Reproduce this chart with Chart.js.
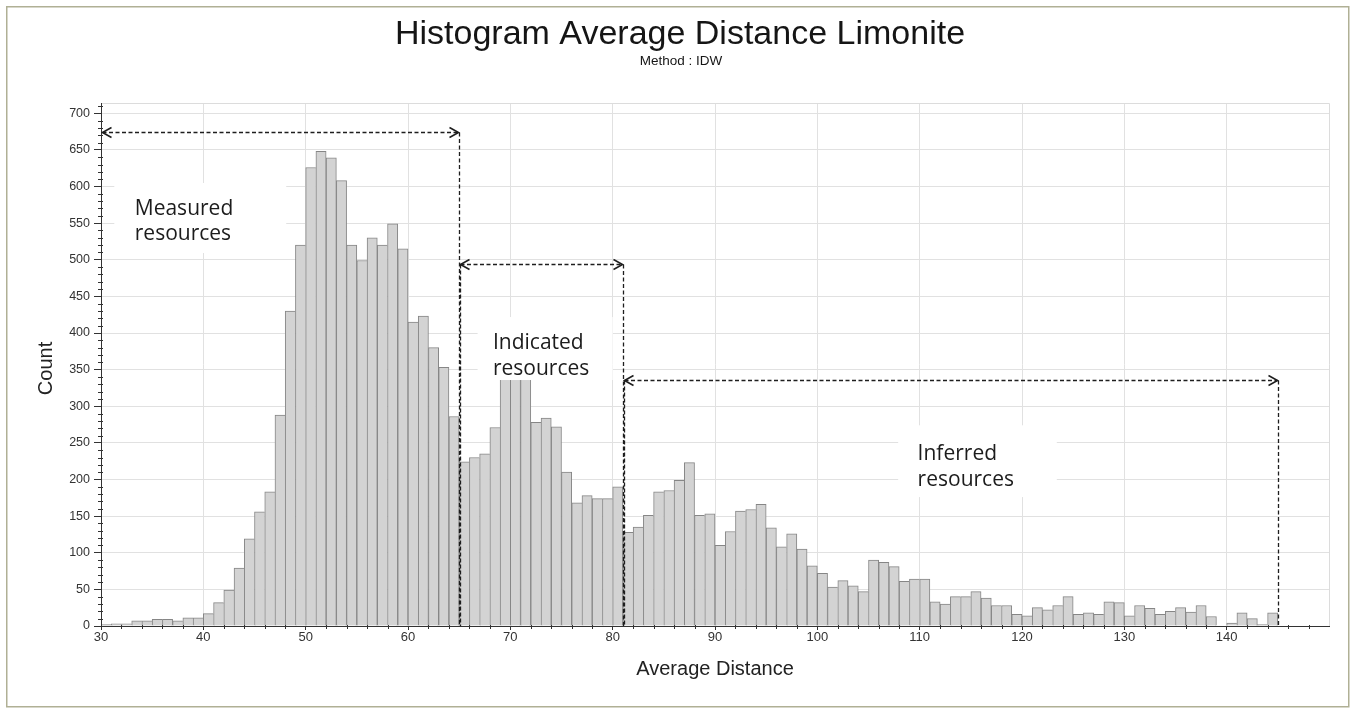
<!DOCTYPE html>
<html>
<head>
<meta charset="utf-8">
<script src="https://cdn.jsdelivr.net/npm/chart.js@4/dist/chart.umd.min.js"></script>
<style>
  html, body { margin: 0; padding: 0; background: #ffffff; }
  #wrap { width: 1356px; height: 708px; }
</style>
</head>
<body>
<div id="wrap"><canvas id="hist" width="1356" height="708"></canvas></div>
<script>
// Lower edge of each 1-unit distance bin
const binLow = [
  30, 31, 32, 33, 34, 35, 36, 37, 38, 39,
  40, 41, 42, 43, 44, 45, 46, 47, 48, 49,
  50, 51, 52, 53, 54, 55, 56, 57, 58, 59,
  60, 61, 62, 63, 64, 65, 66, 67, 68, 69,
  70, 71, 72, 73, 74, 75, 76, 77, 78, 79,
  80, 81, 82, 83, 84, 85, 86, 87, 88, 89,
  90, 91, 92, 93, 94, 95, 96, 97, 98, 99,
  100, 101, 102, 103, 104, 105, 106, 107, 108, 109,
  110, 111, 112, 113, 114, 115, 116, 117, 118, 119,
  120, 121, 122, 123, 124, 125, 126, 127, 128, 129,
  130, 131, 132, 133, 134, 135, 136, 137, 138, 139,
  140, 141, 142, 143, 144
];

// Number of blocks in each bin
const counts = [
  2, 3, 3, 7, 7, 9, 9, 7, 11, 11,
  17, 32, 49, 79, 119, 156, 183, 288, 430, 520,
  626, 648, 639, 608, 520, 499, 530, 520, 549, 515,
  415, 423, 380, 353, 286, 224, 230, 235, 271, 345,
  368, 352, 278, 284, 272, 210, 168, 178, 174, 174,
  190, 128, 135, 151, 183, 185, 199, 223, 151, 153,
  110, 129, 157, 159, 166, 134, 108, 126, 105, 82,
  72, 53, 62, 55, 47, 90, 87, 81, 61, 64,
  64, 33, 30, 40, 40, 47, 38, 28, 28, 16,
  14, 25, 22, 28, 40, 16, 18, 16, 33, 32,
  14, 28, 24, 16, 20, 25, 19, 28, 13, 0,
  4, 18, 10, 2, 18
];

const xTickValues = [30, 40, 50, 60, 70, 80, 90, 100, 110, 120, 130, 140];
const yTickValues = [0, 50, 100, 150, 200, 250, 300, 350, 400, 450, 500, 550, 600, 650, 700];

// Resource classes by average distance
const zoneNames = [['Measured', 'resources'], ['Indicated', 'resources'], ['Inferred', 'resources']];
const zoneFrom = [30, 65, 81];
const zoneTo = [65, 81, 145];

const chartTitle = 'Histogram Average Distance Limonite';
const chartSubtitle = 'Method : IDW';
const xAxisTitle = 'Average Distance';
const yAxisTitle = 'Count';

// Where each class annotation sits, in axis units
const zoneLayout = [
  { arrowY: 675, box: [31.3, 48.1, 604.8, 509.2], textX: 33.3, lineY: [561, 527] },
  { arrowY: 494, box: [66.8, 80.0, 421.8, 335.8], textX: 68.3, lineY: [378, 342.7] },
  { arrowY: 336, box: [107.9, 123.4, 274, 176], textX: 109.8, lineY: [226.6, 191] }
];

const SANS = "'Liberation Sans', Arial, sans-serif";
const LABEL_FONT = "'Open Sans', 'DejaVu Sans', sans-serif";

const histPoints = counts.map((c, i) => ({ x: binLow[i] + 0.5, y: c }));

const decorations = {
  id: 'decorations',
  beforeDraw(chart) {
    const ctx = chart.ctx;
    ctx.save();
    ctx.fillStyle = '#ffffff';
    ctx.fillRect(0, 0, chart.width, chart.height);
    ctx.strokeStyle = '#b0b095';
    ctx.lineWidth = 1.5;
    ctx.strokeRect(6.75, 6.75, chart.width - 14, chart.height - 8);
    ctx.restore();
  },
  afterDatasetsDraw(chart) {
    const ctx = chart.ctx;
    const xs = chart.scales.x, ys = chart.scales.y;
    const a = chart.chartArea;
    ctx.save();

    // light frame on top and right of the plot
    ctx.strokeStyle = '#dcdcdc';
    ctx.lineWidth = 1;
    ctx.beginPath();
    ctx.moveTo(a.left, Math.round(a.top) + 0.5);
    ctx.lineTo(Math.round(a.right) + 0.5, Math.round(a.top) + 0.5);
    ctx.lineTo(Math.round(a.right) + 0.5, a.bottom);
    ctx.stroke();

    // axis lines over the bars
    ctx.strokeStyle = '#333333';
    ctx.beginPath();
    ctx.moveTo(a.left, Math.round(a.bottom) + 0.5);
    ctx.lineTo(a.right, Math.round(a.bottom) + 0.5);
    ctx.moveTo(Math.round(a.left) + 0.5, a.top);
    ctx.lineTo(Math.round(a.left) + 0.5, a.bottom);
    ctx.stroke();

    // minor ticks
    ctx.beginPath();
    for (let v = xs.min + 2; v < xs.max; v += 2) {
      if (v % 10 === 0) continue;
      const px = Math.round(xs.getPixelForValue(v)) + 0.5;
      ctx.moveTo(px, a.bottom - 1);
      ctx.lineTo(px, a.bottom + 3);
    }
    for (let v = 10; v <= 710; v += 10) {
      if (v % 50 === 0) continue;
      const py = Math.round(ys.getPixelForValue(v)) + 0.5;
      ctx.moveTo(a.left - 3, py);
      ctx.lineTo(a.left + 2, py);
    }
    ctx.stroke();

    // class label boxes
    zoneLayout.forEach((z, i) => {
      const bx0 = xs.getPixelForValue(z.box[0]);
      const bx1 = xs.getPixelForValue(z.box[1]);
      const by0 = ys.getPixelForValue(z.box[2]);
      const by1 = ys.getPixelForValue(z.box[3]);
      ctx.fillStyle = '#ffffff';
      ctx.fillRect(bx0, by0, bx1 - bx0, by1 - by0);
      ctx.fillStyle = '#1c1c1c';
      ctx.font = '21px ' + LABEL_FONT;
      ctx.textAlign = 'left';
      ctx.textBaseline = 'alphabetic';
      zoneNames[i].forEach((t, k) => {
        ctx.fillText(t, xs.getPixelForValue(z.textX), ys.getPixelForValue(z.lineY[k]));
      });
    });

    // dashed extent arrows
    ctx.strokeStyle = '#1e1e1e';
    zoneLayout.forEach((z, i) => {
      const x0 = Math.round(xs.getPixelForValue(zoneFrom[i])) + 0.5;
      const x1 = Math.round(xs.getPixelForValue(zoneTo[i])) + 0.5;
      const y = Math.round(ys.getPixelForValue(z.arrowY)) + 0.5;
      ctx.lineWidth = 1.3;
      ctx.setLineDash([4, 2.5]);
      ctx.beginPath();
      ctx.moveTo(x0 + 1, y);
      ctx.lineTo(x1 - 1, y);
      ctx.moveTo(x1, y);
      ctx.lineTo(x1, a.bottom);
      ctx.stroke();
      if (zoneFrom[i] > xs.min) {
        ctx.setLineDash([4, 2]);
        ctx.beginPath();
        ctx.moveTo(x0 + 1, y);
        ctx.lineTo(x0 + 1, a.bottom);
        ctx.stroke();
      }
      ctx.setLineDash([]);
      ctx.lineWidth = 1.6;
      ctx.beginPath();
      ctx.moveTo(x0 + 10, y - 5);
      ctx.lineTo(x0 + 1, y);
      ctx.lineTo(x0 + 10, y + 5);
      ctx.moveTo(x1 - 10, y - 5);
      ctx.lineTo(x1 - 1, y);
      ctx.lineTo(x1 - 10, y + 5);
      ctx.stroke();
    });
    ctx.restore();
  },
  afterDraw(chart) {
    const ctx = chart.ctx;
    const a = chart.chartArea;
    ctx.save();
    ctx.fillStyle = '#151515';
    ctx.textAlign = 'center';
    ctx.textBaseline = 'middle';
    ctx.font = '34px ' + SANS;
    ctx.fillText(chartTitle, 680, 35);
    ctx.font = '13.5px ' + SANS;
    ctx.fillText(chartSubtitle, 681, 61);
    ctx.fillStyle = '#222222';
    ctx.font = '20px ' + SANS;
    ctx.fillText(xAxisTitle, (a.left + a.right) / 2, 669);
    ctx.translate(46, (a.top + a.bottom) / 2 + 4);
    ctx.rotate(-Math.PI / 2);
    ctx.fillText(yAxisTitle, 0, 0);
    ctx.restore();
  }
};

new Chart(document.getElementById('hist'), {
  type: 'bar',
  data: {
    datasets: [{
      data: histPoints,
      backgroundColor: '#d3d3d3',
      borderColor: '#868686',
      borderWidth: (c) => {
        const i = c.dataIndex;
        const v = counts[i];
        const next = i + 1 < counts.length ? counts[i + 1] : 0;
        return { top: 1, left: 1, right: next < v ? 1 : 0, bottom: 0 };
      },
      barPercentage: 1,
      categoryPercentage: 1
    }]
  },
  options: {
    responsive: false,
    animation: false,
    devicePixelRatio: 1,
    layout: { padding: { left: 0, right: 27, top: 103, bottom: 0 } },
    plugins: { legend: { display: false }, tooltip: { enabled: false }, title: { display: false } },
    scales: {
      x: {
        type: 'linear',
        min: 30,
        max: 150,
        offset: false,
        grid: { offset: false, color: '#e1e1e1', lineWidth: 1, tickColor: '#333333', tickLength: 4 },
        border: { color: '#333333', width: 1 },
        ticks: {
          autoSkip: false, maxRotation: 0, padding: 0, color: '#333333',
          font: { family: SANS, size: 13 }
        },
        afterBuildTicks: (s) => { s.ticks = xTickValues.map(v => ({ value: v })); },
        afterFit: (s) => { s.height = 82; }
      },
      y: {
        type: 'linear',
        min: 0,
        max: 714,
        grid: { color: '#e1e1e1', lineWidth: 1, tickColor: '#333333', tickLength: 7 },
        border: { color: '#333333', width: 1 },
        ticks: {
          autoSkip: false, padding: 4, color: '#333333',
          font: { family: SANS, size: 12.5 }
        },
        afterBuildTicks: (s) => { s.ticks = yTickValues.map(v => ({ value: v })); },
        afterFit: (s) => { s.width = 101; }
      }
    }
  },
  plugins: [decorations]
});
</script>
</body>
</html>
